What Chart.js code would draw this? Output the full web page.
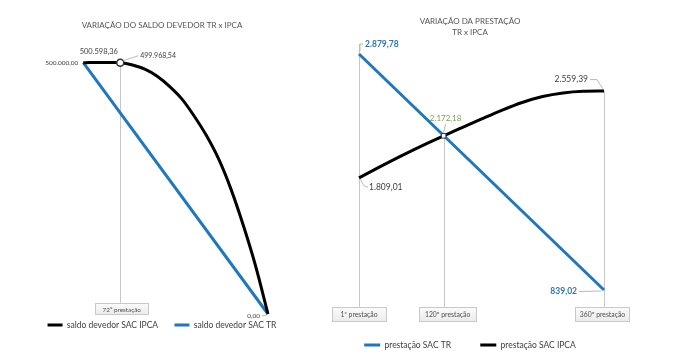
<!DOCTYPE html>
<html>
<head>
<meta charset="utf-8">
<script src="https://cdn.jsdelivr.net/npm/chart.js@4.4.1/dist/chart.umd.min.js"></script>
<style>
  html, body { margin:0; padding:0; background:#fff; }
  body { width:700px; height:363px; position:relative; overflow:hidden; }
  #w1 { position:absolute; left:0; top:0; width:320px; height:363px; }
  #w2 { position:absolute; left:320px; top:0; width:380px; height:363px; }
</style>
</head>
<body>
<div id="w1"><canvas id="c1" width="320" height="363"></canvas></div>
<div id="w2"><canvas id="c2" width="380" height="363"></canvas></div>
<script>
// ---------- DATA ----------
// Left chart: saldo devedor (months 0..360)
const saldoMeses = [0, 12, 24, 36, 48, 60, 72, 96, 120, 144, 168, 192, 216, 240, 264, 288, 312, 336, 360];
const saldoIPCA  = [500000, 500300, 500520, 500598.36, 500540, 500330, 499968.54, 495500, 487000, 473000, 453000, 428000, 394000, 355000, 308000, 248000, 176000, 95000, 0];
const saldoTRMeses = [0, 360];
const saldoTR      = [500000, 0];
const marcosSaldo  = ['72º prestação'];

// Right chart: prestação (installments 1..360)
const prestMeses = [1, 30, 60, 90, 125, 150, 180, 210, 240, 270, 300, 330, 360];
const prestIPCA  = [1809.01, 1899, 1990, 2077, 2172.18, 2238, 2316, 2392, 2460, 2512, 2543, 2557, 2559.39];
const prestTRMeses = [1, 360];
const prestTR      = [2879.78, 839.02];
const marcosPrest  = ['1ª prestação', '120º prestação', '360º prestação'];

const serieNomes = {
  saldoIPCA: 'saldo devedor SAC IPCA',
  saldoTR: 'saldo devedor SAC TR',
  prestTR: 'prestação SAC TR',
  prestIPCA: 'prestação SAC IPCA'
};

// ---------- helpers ----------
function fmt(v) {
  const s = Math.abs(v).toFixed(2).split('.');
  const int = s[0].replace(/\B(?=(\d{3})+(?!\d))/g, '.');
  return (v < 0 ? '-' : '') + int + ',' + s[1];
}
function pts(xs, ys) { return xs.map((x, i) => ({ x: x, y: ys[i] })); }

const FONT = 'Lato, "Liberation Sans", sans-serif';
const BLUE = '#1f77c0';
const BLACK = '#000000';

const annotPlugin = {
  id: 'annot',
  beforeDatasetsDraw(chart, args, opts) {
    const ctx = chart.ctx, xs = chart.scales.x, ys = chart.scales.y;
    ctx.save();
    ctx.strokeStyle = '#c6c6c6';
    ctx.lineWidth = 1;
    (opts.drops || []).forEach(d => {
      const x = Math.round(xs.getPixelForValue(d.t)) + 0.5;
      const y0 = ys.getPixelForValue(d.v) + d.off;
      ctx.beginPath(); ctx.moveTo(x, y0); ctx.lineTo(x, d.yEnd); ctx.stroke();
    });
    ctx.restore();
  },
  afterDatasetsDraw(chart, args, opts) {
    const ctx = chart.ctx, xs = chart.scales.x, ys = chart.scales.y;
    ctx.save();
    // category boxes
    (opts.boxes || []).forEach(b => {
      const cx = xs.getPixelForValue(b.t) + b.dx;
      const x0 = Math.round(cx - b.w / 2) + 0.5, y0 = Math.round(b.y) + 0.5;
      const g = ctx.createLinearGradient(0, y0, 0, y0 + b.h);
      g.addColorStop(0, '#fbfbfb'); g.addColorStop(1, '#ebebeb');
      ctx.fillStyle = g;
      ctx.fillRect(x0, y0, b.w, b.h);
      ctx.strokeStyle = '#c9c9c9'; ctx.lineWidth = 1;
      ctx.strokeRect(x0, y0, b.w, b.h);
      ctx.fillStyle = '#505050';
      ctx.font = b.size + 'px ' + FONT;
      ctx.textAlign = 'center'; ctx.textBaseline = 'middle';
      ctx.fillText(b.text, cx, y0 + b.h / 2 + 0.5);
    });
    // data labels
    (opts.labels || []).forEach(l => {
      const ds = chart.data.datasets[l.ds];
      const idx = l.i < 0 ? ds.data.length + l.i : l.i;
      const p = ds.data[idx];
      const px = xs.getPixelForValue(p.x), py = ys.getPixelForValue(p.y);
      if (l.leader) {
        ctx.strokeStyle = '#a8a8a8'; ctx.lineWidth = 0.8;
        ctx.beginPath();
        l.leader.forEach((q, k) => { if (k === 0) ctx.moveTo(px + q[0], py + q[1]); else ctx.lineTo(px + q[0], py + q[1]); });
        ctx.stroke();
      }
      ctx.fillStyle = l.color || '#404040';
      ctx.font = (l.bold ? 'bold ' : '') + l.size + 'px ' + FONT;
      ctx.textAlign = l.align; ctx.textBaseline = 'middle';
      ctx.fillText(fmt(p.y), px + l.dx, py + l.dy);
    });
    ctx.restore();
  }
};

function legendLabels(extra) {
  return function (chart) {
    const items = Chart.defaults.plugins.legend.labels.generateLabels(chart);
    items.sort((a, b) => a.datasetIndex - b.datasetIndex);
    items.forEach(it => {
      const ds = chart.data.datasets[it.datasetIndex];
      it.strokeStyle = ds.borderColor;
      it.fillStyle = ds.borderColor;
      it.lineWidth = ds.borderWidth;
    });
    if (items.length) items[0].text = items[0].text + extra;
    return items;
  };
}

// ---------- LEFT CHART ----------
const markerRadius1 = saldoMeses.map(m => m === 72 ? 3.5 : 0);
new Chart(document.getElementById('c1'), {
  type: 'line',
  data: {
    datasets: [
      {
        label: serieNomes.saldoIPCA,
        data: pts(saldoMeses, saldoIPCA),
        borderColor: BLACK, backgroundColor: BLACK, borderWidth: 3,
        cubicInterpolationMode: 'monotone',
        pointRadius: markerRadius1, pointHoverRadius: markerRadius1,
        pointBackgroundColor: '#ffffff', pointBorderColor: '#333333', pointBorderWidth: 1.5,
        clip: false, order: 0
      },
      {
        label: serieNomes.saldoTR,
        data: pts(saldoTRMeses, saldoTR),
        borderColor: BLUE, backgroundColor: BLUE, borderWidth: 3,
        tension: 0, pointRadius: 0, clip: false, order: 1
      }
    ]
  },
  options: {
    responsive: false, animation: false, devicePixelRatio: 1,
    layout: { padding: { left: 22, right: 18, top: 0, bottom: 23.75 } },
    scales: {
      x: { type: 'linear', display: false, min: -119.5, max: 426.3 },
      y: { type: 'linear', display: false, min: 6466, max: 545572 }
    },
    plugins: {
      tooltip: { enabled: false },
      title: {
        display: true, text: 'VARIAÇÃO DO SALDO DEVEDOR TR x IPCA', color: '#555555',
        font: { family: FONT, size: 8, weight: 'normal', lineHeight: 1.2 },
        padding: { top: 20.2, bottom: 10 }
      },
      legend: {
        display: true, position: 'bottom',
        labels: {
          usePointStyle: true, pointStyle: 'line', pointStyleWidth: 15,
          color: '#404040', padding: 10,
          font: { family: FONT, size: 8.5 },
          generateLabels: legendLabels('\u2003')
        }
      },
      annot: {
        drops: [{ t: 72, v: 499968.54, off: 3, yEnd: 302.7 }],
        boxes: [{ t: 72, text: marcosSaldo[0], w: 53, h: 11, y: 302.7, dx: 1.5, size: 6.3 }],
        labels: [
          { ds: 0, i: 0, dx: -5, dy: 0, align: 'right', size: 6.5 },
          { ds: 0, i: 3, dx: -3, dy: -10.5, align: 'center', size: 7.5 },
          { ds: 0, i: 6, dx: 20, dy: -7, align: 'left', size: 7, leader: [[3, -2], [18, -7]] },
          { ds: 0, i: -1, dx: -8, dy: 2, align: 'right', size: 6.5, leader: [[-6, 2], [-1, 1]] }
        ]
      }
    }
  },
  plugins: [annotPlugin]
});

// ---------- RIGHT CHART ----------
const markerRadius2 = prestMeses.map(m => m === 125 ? 3.2 : 0);
new Chart(document.getElementById('c2'), {
  type: 'line',
  data: {
    datasets: [
      {
        label: serieNomes.prestTR,
        data: pts(prestTRMeses, prestTR),
        borderColor: BLUE, backgroundColor: BLUE, borderWidth: 3,
        tension: 0, pointRadius: 0, clip: false, order: 1
      },
      {
        label: serieNomes.prestIPCA,
        data: pts(prestMeses, prestIPCA),
        borderColor: BLACK, backgroundColor: BLACK, borderWidth: 3,
        cubicInterpolationMode: 'monotone',
        pointStyle: 'rect',
        pointRadius: markerRadius2, pointHoverRadius: markerRadius2,
        pointBackgroundColor: '#ffffff', pointBorderColor: '#333333', pointBorderWidth: 1,
        clip: false, order: 0
      }
    ]
  },
  options: {
    responsive: false, animation: false, devicePixelRatio: 1,
    layout: { padding: { left: 5, right: 85, top: 0, bottom: 3.75 } },
    scales: {
      x: { type: 'linear', display: false, min: -48.82, max: 376.12 },
      y: { type: 'linear', display: false, min: 486.6, max: 2979.22 }
    },
    plugins: {
      tooltip: { enabled: false },
      title: {
        display: true, text: ['VARIAÇÃO DA PRESTAÇÃO', 'TR x IPCA'], color: '#555555',
        font: { family: FONT, size: 8, weight: 'normal', lineHeight: 1.375 },
        padding: { top: 15.5, bottom: 5 }
      },
      legend: {
        display: true, position: 'bottom',
        labels: {
          usePointStyle: true, pointStyle: 'line', pointStyleWidth: 16,
          color: '#404040', padding: 10,
          font: { family: FONT, size: 8.5 },
          generateLabels: legendLabels('\u2003\u2003\u2003')
        }
      },
      annot: {
        drops: [
          { t: 1, v: 2879.78, off: -10, yEnd: 306.7 },
          { t: 125, v: 2172.18, off: 0, yEnd: 306.7 },
          { t: 360, v: 2559.39, off: 0, yEnd: 306.7 }
        ],
        boxes: [
          { t: 1, text: marcosPrest[0], w: 54, h: 14, y: 306.7, dx: 0, size: 6.8 },
          { t: 125, text: marcosPrest[1], w: 57, h: 14, y: 306.7, dx: 4, size: 6.8 },
          { t: 360, text: marcosPrest[2], w: 54, h: 14, y: 306.7, dx: -1.5, size: 6.8 }
        ],
        labels: [
          { ds: 0, i: 0, dx: 6, dy: -10, align: 'left', size: 8.5, bold: true, color: '#2f74b5', leader: [[1, -3], [1, -10], [4, -10]] },
          { ds: 1, i: 4, dx: 2, dy: -17.5, align: 'center', size: 8, color: '#76a44f', leader: [[0, -3], [2, -12]] },
          { ds: 1, i: 0, dx: 10, dy: 9.5, align: 'left', size: 8.5, leader: [[1, 1], [5, 8], [9, 9.5]] },
          { ds: 1, i: -1, dx: -16, dy: -11.7, align: 'right', size: 8.5, leader: [[-14, -11.5], [-7, -11.5], [-1, -2]] },
          { ds: 0, i: -1, dx: -27, dy: 1.5, align: 'right', size: 8.5, bold: true, color: '#2f74b5', leader: [[-25, 1.5], [-3, 1]] }
        ]
      }
    }
  },
  plugins: [annotPlugin]
});
</script>
</body>
</html>
